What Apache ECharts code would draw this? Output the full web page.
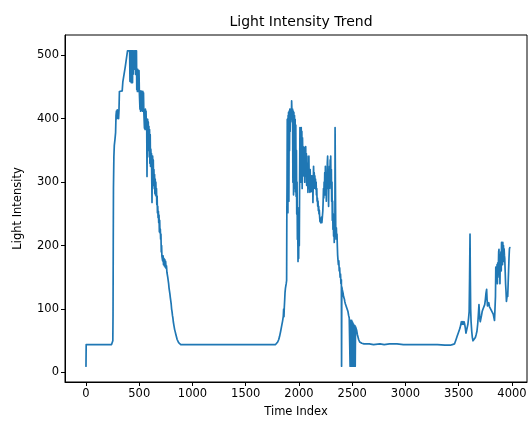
<!DOCTYPE html>
<html>
<head>
<meta charset="utf-8">
<script src="https://cdn.jsdelivr.net/npm/echarts@6/dist/echarts.min.js"></script>
<style>html,body{margin:0;padding:0;background:#fff}#c{width:530px;height:423px}</style>
</head>
<body>
<div id="c"></div>
<script>
// ---- data: [timeIndex, lightIntensity] pairs, by segment ----
const segStart = [[0,10],[2,44],[100,44],[200,44],[240,44],[248,46],[252,50],[254,90],[256,200],[258,290],[262,340],[266,358],[272,367],[278,378],[282,405],[286,412],[290,400],[294,414],[298,402],[302,412],[306,400],[310,414],[314,443],[320,441],[326,444],[332,442],[340,444],[346,458],[352,457],[358,460],[364,459],[368,481],[374,480],[380,482],[386,481]];
const segPeak1 = [[390,507],[394,507],[398,506],[402,507],[406,507],[410,507],[413,459],[416,507],[419,462],[422,507],[425,457],[428,507],[431,460],[434,507],[437,457],[440,507],[443,470],[446,507],[450,507],[453,478],[456,507],[459,480],[462,507],[465,470],[468,507],[471,478],[474,507],[477,446],[480,478],[483,443],[486,478],[489,446],[492,470],[495,443],[498,476],[501,442],[504,443],[507,415],[510,443],[513,412],[516,444],[519,415],[522,443],[525,413],[528,440],[531,412],[534,443],[537,415],[540,441],[543,412],[546,415],[549,385],[552,414],[555,383],[558,415],[561,390],[564,412],[567,383],[570,400],[573,309],[576,385],[579,399],[582,372],[585,395],[588,350],[591,388],[594,340],[597,383],[600,330],[603,375],[606,325],[609,352],[612,340],[615,345],[618,300],[620,268],[623,330],[626,341],[629,305],[632,335],[635,295],[638,320],[641,290],[644,312],[647,282],[650,305],[653,280],[656,300],[659,278],[662,290],[665,265],[668,278],[671,252],[674,262],[677,244],[680,254],[683,236],[686,248],[689,222],[692,240],[695,220],[698,226],[701,210],[704,218],[707,190],[710,200],[713,183],[716,186],[720,176],[724,184],[728,170],[732,180],[736,168],[740,178],[744,166],[748,175],[752,164],[756,168],[760,158],[764,155],[768,150],[772,147],[776,140],[780,133],[784,130],[788,124],[792,118],[796,115],[800,108],[804,100],[808,96],[812,90],[816,86],[820,80],[826,74],[832,68],[838,64],[844,60],[850,56],[856,52],[862,49],[870,47],[880,46],[890,44]];
const segBase1 = [[900,44],[980,44],[985,46],[990,44],[1020,44],[1025,46],[1030,44],[1060,44],[1065,46],[1075,46],[1080,44],[1120,44],[1125,46],[1130,44],[1160,44],[1165,46],[1170,44],[1250,44],[1255,46],[1262,46],[1266,44],[1300,44],[1305,46],[1310,44],[1500,44],[1700,44],[1780,44]];
const segRise2 = [[1790,45],[1800,48],[1810,52],[1818,57],[1828,65],[1837,73],[1846,81],[1853,89],[1856,100],[1859,88],[1862,102],[1866,115],[1869,126],[1873,133],[1876,136],[1880,140],[1884,145],[1886,252],[1888,300],[1890,399]];
const segPeak2 = [[1892,330],[1894,400],[1896,252],[1898,405],[1900,300],[1902,410],[1905,270],[1908,412],[1911,350],[1914,415],[1917,380],[1920,410],[1923,395],[1926,415],[1929,400],[1931,428],[1934,410],[1937,399],[1940,415],[1943,300],[1946,412],[1949,280],[1952,410],[1955,290],[1958,405],[1961,320],[1964,399],[1967,285],[1970,390],[1973,278],[1976,350],[1979,250],[1982,300],[1985,210],[1988,240],[1991,175],[1994,230],[1997,180],[2000,260],[2003,200],[2006,300],[2009,386],[2012,330],[2015,383],[2018,300],[2021,386],[2024,320],[2027,380],[2030,290],[2033,370],[2036,340],[2039,356],[2042,310],[2045,352],[2048,330],[2051,355],[2054,300],[2057,350],[2060,320],[2063,356],[2066,310],[2069,345],[2072,295],[2075,341],[2078,300],[2081,330],[2084,284],[2087,320],[2090,290],[2093,341],[2096,300],[2099,310],[2102,284],[2105,320],[2108,295],[2111,300],[2114,285],[2117,310],[2120,290],[2123,300],[2126,285],[2129,310],[2131,268],[2134,300],[2137,325],[2140,290],[2143,315],[2146,300],[2149,310],[2152,290],[2155,305],[2158,289],[2161,300],[2164,280],[2167,290],[2170,270],[2173,275],[2176,262],[2179,270],[2182,255],[2185,262],[2188,250],[2191,256],[2194,245],[2197,238],[2200,242],[2203,236],[2206,240],[2209,238],[2212,245],[2215,236],[2218,242],[2221,240],[2224,255],[2227,270],[2230,290],[2233,275],[2236,300],[2239,285],[2242,315],[2245,280],[2248,325],[2251,290],[2254,300],[2257,270],[2260,315],[2263,290],[2266,330],[2269,341],[2272,300],[2275,320],[2278,262],[2281,310],[2284,290],[2287,325],[2290,300],[2293,335],[2296,310],[2298,341],[2301,290],[2304,320],[2307,270],[2310,300],[2313,240],[2316,270],[2319,226],[2322,250],[2325,215],[2328,240],[2331,205],[2334,235],[2337,210],[2339,386],[2342,300],[2345,230],[2348,215],[2351,228],[2354,210],[2357,218],[2360,200],[2363,185],[2366,178],[2370,170],[2374,176],[2378,160],[2382,165],[2386,150],[2390,155],[2394,140],[2398,146],[2400,10],[2402,135],[2406,131],[2410,133],[2414,125],[2418,120],[2422,118],[2426,116],[2430,112],[2436,108],[2442,105],[2448,102],[2454,100],[2460,96],[2466,90],[2472,86],[2478,84],[2480,10],[2483,82],[2486,10],[2489,80],[2492,10],[2495,82],[2498,10],[2501,80],[2504,10],[2507,78],[2510,10],[2513,76],[2516,10],[2519,74],[2522,12],[2525,74],[2528,10],[2531,72],[2536,70],[2542,66],[2548,60],[2554,56],[2560,52],[2570,48],[2580,47],[2590,46],[2600,47],[2610,45]];
const segBase2 = [[2620,44],[2660,45],[2700,44],[2760,45],[2800,44],[2850,45],[2855,48],[2865,48],[2870,45],[2900,45],[2905,48],[2915,48],[2920,45],[2980,44],[3100,44],[3180,44],[3183,47],[3186,44],[3300,44],[3370,43],[3420,43],[3440,44],[3460,45]];
const segEnd = [[3465,47],[3475,52],[3485,57],[3495,62],[3505,65],[3512,70],[3518,72],[3525,80],[3531,76],[3537,80],[3543,76],[3550,80],[3556,76],[3562,70],[3568,62],[3574,60],[3580,65],[3586,76],[3592,85],[3598,96],[3602,150],[3606,218],[3609,150],[3612,100],[3616,80],[3622,65],[3628,55],[3634,50],[3640,47],[3648,50],[3656,55],[3664,60],[3671,65],[3678,76],[3684,90],[3690,107],[3694,95],[3698,85],[3702,80],[3708,85],[3714,90],[3720,96],[3728,100],[3736,103],[3744,107],[3750,115],[3756,125],[3762,131],[3766,115],[3770,105],[3776,108],[3782,110],[3788,104],[3794,106],[3800,102],[3806,98],[3812,95],[3818,96],[3824,92],[3830,90],[3836,82],[3840,79],[3845,120],[3848,166],[3851,150],[3854,160],[3857,155],[3860,170],[3863,140],[3866,173],[3869,150],[3872,165],[3875,190],[3878,194],[3881,160],[3884,175],[3887,140],[3890,175],[3893,180],[3896,190],[3899,160],[3902,205],[3905,175],[3908,200],[3911,170],[3914,205],[3917,180],[3920,200],[3923,175],[3926,195],[3929,185],[3932,180],[3936,160],[3940,140],[3944,128],[3948,112],[3952,118],[3956,125],[3960,120],[3964,140],[3968,160],[3972,180],[3976,195],[3980,197]];

const xTicks = [0,500,1000,1500,2000,2500,3000,3500,4000];
const yTicks = [0,100,200,300,400,500];
const titleText = 'Light Intensity Trend';
const xName = 'Time Index';
const yName = 'Light Intensity';

const seriesData = [].concat(segStart, segPeak1, segBase1, segRise2, segPeak2, segBase2, segEnd);

const FONT = 'DejaVu Sans';
const plain = v => String(v);
const chart = echarts.init(document.getElementById('c'), null, {renderer: 'canvas'});
chart.setOption({
  animation: false,
  backgroundColor: '#fff',
  title: {
    text: titleText, left: 296, top: 10, textAlign: 'center',
    textStyle: {fontFamily: FONT, fontSize: 14, fontWeight: 'normal', color: '#000'}
  },
  grid: {left: 65, right: 3, top: 35, bottom: 40, show: true, borderColor: '#000', borderWidth: 1, backgroundColor: 'transparent'},
  xAxis: {
    type: 'value', min: -197, max: 4141,
    name: xName, nameLocation: 'middle', nameGap: 24,
    nameTextStyle: {fontFamily: FONT, fontSize: 11.5, color: '#000'},
    axisLine: {show: true, onZero: false, lineStyle: {color: '#000', width: 1}},
    axisTick: {show: true, length: 4, lineStyle: {color: '#000', width: 1}, customValues: xTicks},
    axisLabel: {fontFamily: FONT, fontSize: 11.5, color: '#000', margin: 6, customValues: xTicks, formatter: plain},
    splitLine: {show: false}
  },
  yAxis: {
    type: 'value', min: -15, max: 532,
    name: yName, nameLocation: 'middle', nameGap: 41, nameRotate: 90,
    nameTextStyle: {fontFamily: FONT, fontSize: 11.5, color: '#000'},
    axisLine: {show: true, onZero: false, lineStyle: {color: '#000', width: 1}},
    axisTick: {show: true, length: 4, lineStyle: {color: '#000', width: 1}, customValues: yTicks},
    axisLabel: {fontFamily: FONT, fontSize: 11.5, color: '#000', margin: 6, customValues: yTicks, formatter: plain},
    splitLine: {show: false}
  },
  series: [{
    type: 'line', data: seriesData, showSymbol: false, symbol: 'none', sampling: null,
    lineStyle: {color: '#1f77b4', width: 1.7, join: 'round', cap: 'round'},
    emphasis: {disabled: true}
  }]
});
</script>
</body>
</html>
